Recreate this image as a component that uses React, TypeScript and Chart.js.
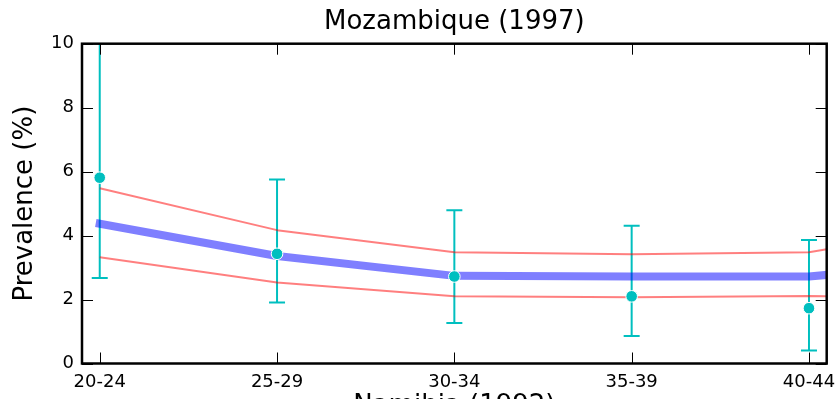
import React, { useEffect, useRef } from 'react';
import { Chart, registerables } from 'chart.js';

Chart.register(...registerables);

const categories = ['20-24', '25-29', '30-34', '35-39', '40-44'];
const tickPositions = [0, 1, 2, 3, 4];
const observed = [5.81, 3.43, 2.72, 2.1, 1.73];
const observedLower = [2.67, 1.91, 1.27, 0.86, 0.41];
const observedUpper = [10.8, 5.75, 4.79, 4.31, 3.86];
const modelX = [0, 1, 2, 3, 4, 4.1];
const modelMean = [4.37, 3.36, 2.74, 2.72, 2.72, 2.77];
const modelLower = [3.32, 2.53, 2.1, 2.07, 2.11, 2.1];
const modelUpper = [5.48, 4.17, 3.48, 3.42, 3.48, 3.57];
const yTicks = [0, 2, 4, 6, 8, 10];

const W = 839;
const H = 430;
const AREA_TOP = 43.7;
const AREA_BOTTOM = 363.5;
const AREA_LEFT = 82;
const AREA_RIGHT = 826.7;

const CYAN = '#00BFBF';

const errorBarPlugin = {
  id: 'errorBars',
  beforeDatasetsDraw(chart: any) {
    const { ctx, chartArea, scales } = chart;
    const xs = scales.x;
    const ys = scales.y;
    ctx.save();
    ctx.beginPath();
    ctx.rect(chartArea.left, chartArea.top, chartArea.right - chartArea.left, chartArea.bottom - chartArea.top);
    ctx.clip();
    ctx.strokeStyle = CYAN;
    ctx.lineWidth = 2;
    observed.forEach((_, i) => {
      const px = xs.getPixelForValue(i);
      const lo = ys.getPixelForValue(observedLower[i]);
      const hi = ys.getPixelForValue(observedUpper[i]);
      ctx.beginPath();
      ctx.moveTo(px, lo);
      ctx.lineTo(px, hi);
      ctx.moveTo(px - 8, lo);
      ctx.lineTo(px + 8, lo);
      ctx.moveTo(px - 8, hi);
      ctx.lineTo(px + 8, hi);
      ctx.stroke();
    });
    ctx.restore();
  },
};

const framePlugin = {
  id: 'frame',
  afterDatasetsDraw(chart: any) {
    const { ctx, chartArea, scales } = chart;
    const xs = scales.x;
    const ys = scales.y;
    const { left, right, top, bottom } = chartArea;
    ctx.save();
    ctx.strokeStyle = '#000';
    ctx.lineWidth = 1;
    ctx.beginPath();
    tickPositions.forEach((v) => {
      const px = Math.round(xs.getPixelForValue(v)) + 0.5;
      ctx.moveTo(px, bottom);
      ctx.lineTo(px, bottom - 11);
      ctx.moveTo(px, top);
      ctx.lineTo(px, top + 11);
    });
    yTicks.forEach((v) => {
      const py = Math.round(ys.getPixelForValue(v)) + 0.5;
      ctx.moveTo(left, py);
      ctx.lineTo(left + 11, py);
      ctx.moveTo(right, py);
      ctx.lineTo(right - 11, py);
    });
    ctx.stroke();
    ctx.lineWidth = 2.5;
    ctx.strokeRect(left, top, right - left, bottom - top);
    ctx.restore();
  },
};

export default function App() {
  const canvasRef = useRef<HTMLCanvasElement | null>(null);

  useEffect(() => {
    const canvas = canvasRef.current;
    if (!canvas) return;
    Chart.defaults.font.family = "'DejaVu Sans', sans-serif";
    Chart.defaults.color = '#000';

    const chart = new Chart(canvas, {
      type: 'scatter',
      data: {
        datasets: [
          {
            label: 'Observed',
            data: observed.map((y, i) => ({ x: tickPositions[i], y })),
            showLine: false,
            pointRadius: 5.8,
            pointBackgroundColor: CYAN,
            pointBorderColor: '#ffffff',
            pointBorderWidth: 1,
            clip: 0,
          },
          {
            label: 'Model',
            data: modelMean.map((y, i) => ({ x: modelX[i], y })),
            showLine: true,
            borderColor: 'rgba(0,0,255,0.5)',
            borderWidth: 8,
            borderCapStyle: 'square',
            borderJoinStyle: 'round',
            pointRadius: 0,
            clip: 0,
          },
          {
            label: 'Upper',
            data: modelUpper.map((y, i) => ({ x: modelX[i], y })),
            showLine: true,
            borderColor: 'rgba(255,0,0,0.5)',
            borderWidth: 2,
            borderJoinStyle: 'round',
            pointRadius: 0,
            clip: 0,
          },
          {
            label: 'Lower',
            data: modelLower.map((y, i) => ({ x: modelX[i], y })),
            showLine: true,
            borderColor: 'rgba(255,0,0,0.5)',
            borderWidth: 2,
            borderJoinStyle: 'round',
            pointRadius: 0,
            clip: 0,
          },
        ],
      },
      options: {
        responsive: false,
        animation: false,
        events: [],
        layout: { padding: { top: 0, left: 0, right: W - AREA_RIGHT, bottom: 0 } },
        plugins: {
          legend: { display: false },
          tooltip: { enabled: false },
          title: {
            display: true,
            text: 'Mozambique (1997)',
            fullSize: false,
            color: '#000',
            font: { size: 26, weight: 'normal' },
            padding: { top: 7, bottom: AREA_TOP - 7 - 31.2 },
          },
        },
        scales: {
          x: {
            type: 'linear',
            min: -0.1,
            max: 4.1,
            afterBuildTicks: (s: any) => {
              s.ticks = tickPositions.map((v) => ({ value: v }));
            },
            afterFit: (s: any) => {
              s.height = H - AREA_BOTTOM;
              s.paddingLeft = 0;
              s.paddingRight = 0;
            },
            ticks: {
              autoSkip: false,
              maxRotation: 0,
              padding: 8,
              color: '#000',
              font: { size: 18 },
              callback: (v: any) => {
                const idx = tickPositions.indexOf(Number(v));
                return idx >= 0 ? categories[idx] : '';
              },
            },
            grid: { display: false, drawTicks: false },
            border: { display: false },
            title: {
              display: true,
              text: 'Namibia (1992)',
              color: '#000',
              font: { size: 26 },
              padding: { top: 0, bottom: 8 },
            },
          },
          y: {
            type: 'linear',
            min: 0,
            max: 10,
            afterBuildTicks: (s: any) => {
              s.ticks = yTicks.map((v) => ({ value: v }));
            },
            afterFit: (s: any) => {
              s.width = AREA_LEFT;
              s.paddingTop = 0;
              s.paddingBottom = 0;
            },
            ticks: {
              padding: 8,
              color: '#000',
              font: { size: 18 },
            },
            grid: { display: false, drawTicks: false },
            border: { display: false },
            title: {
              display: true,
              text: 'Prevalence (%)',
              color: '#000',
              font: { size: 26 },
              padding: { top: 10, bottom: 0 },
            },
          },
        },
      } as any,
      plugins: [errorBarPlugin, framePlugin],
    });

    return () => {
      chart.destroy();
    };
  }, []);

  return (
    <div style={{ position: 'fixed', left: 0, top: 0, width: W, height: H, background: '#fff' }}>
      <canvas ref={canvasRef} width={W} height={H} style={{ display: 'block' }} />
    </div>
  );
}
